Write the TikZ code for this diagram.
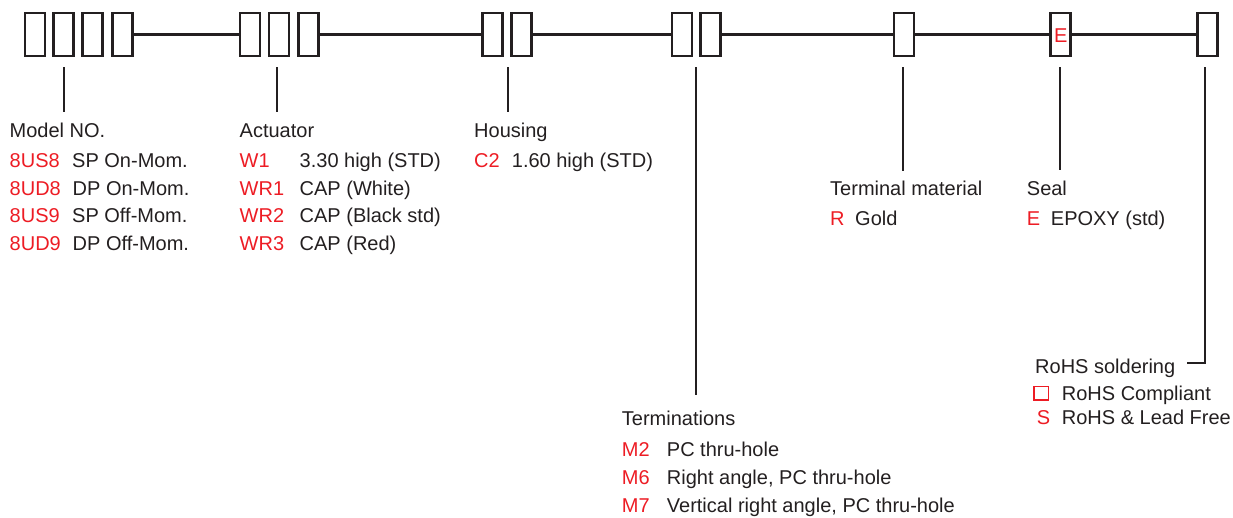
\documentclass[tikz,border=0pt]{standalone}
\usepackage{fontspec}
\setmainfont{Liberation Sans}
\definecolor{ink}{HTML}{231F20}
\definecolor{codered}{HTML}{ED1C24}
\begin{document}
\begin{tikzpicture}[x=1pt,y=-1pt,
  cell/.style={draw=ink,line width=2.6pt,minimum width=20pt,minimum height=43pt,inner sep=0pt,outer sep=0pt},
  wire/.style={draw=ink,line width=2.2pt},
  lead/.style={draw=ink,line width=2pt},
  txt/.style={inner sep=0pt,anchor=base west,text=ink,font=\fontsize{20}{24}\selectfont},
  code/.style={txt,text=codered}]
\useasboundingbox (0,0) rectangle (1233,517);
% boxes (centre y = 34.5)
\node[cell] (a1) at (35,34.5) {};
\node[cell] (a2) at (63.4,34.5) {};
\node[cell] (a3) at (92.2,34.5) {};
\node[cell] (a4) at (122.5,34.5) {};
\node[cell] (b1) at (250,34.5) {};
\node[cell] (b2) at (278.9,34.5) {};
\node[cell] (b3) at (308.5,34.5) {};
\node[cell] (c1) at (492.2,34.5) {};
\node[cell] (c2) at (521.5,34.5) {};
\node[cell] (d1) at (681.8,34.5) {};
\node[cell] (d2) at (710.5,34.5) {};
\node[cell] (e1) at (903.8,34.5) {};
\node[cell] (f1) at (1060.7,34.5) {};
\node[inner sep=0pt,text=codered,font=\fontsize{20}{24}\selectfont] (fE) at (1060.7,36) {E};
\node[cell] (g1) at (1207.3,34.5) {};
% connecting wires
\draw[wire] (a4.east) -- (b1.west);
\draw[wire] (b3.east) -- (c1.west);
\draw[wire] (c2.east) -- (d1.west);
\draw[wire] (d2.east) -- (e1.west);
\draw[wire] (e1.east) -- (f1.west);
\draw[wire] (f1.east) -- (g1.west);
% leader coordinates
\coordinate (la0) at (64,67);   \coordinate (la1) at (64,112);
\coordinate (lb0) at (277,67);  \coordinate (lb1) at (277,112);
\coordinate (lc0) at (508,67);  \coordinate (lc1) at (508,112);
\coordinate (ld0) at (695.7,67);\coordinate (ld1) at (695.7,395);
\coordinate (le0) at (903,67);  \coordinate (le1) at (903,171);
\coordinate (lf0) at (1060,67); \coordinate (lf1) at (1060,170);
\coordinate (lg0) at (1205,67); \coordinate (lg1) at (1205,363); \coordinate (lg2) at (1186.7,363);
\draw[lead] (la0) -- (la1);
\draw[lead] (lb0) -- (lb1);
\draw[lead] (lc0) -- (lc1);
\draw[lead] (ld0) -- (ld1);
\draw[lead] (le0) -- (le1);
\draw[lead] (lf0) -- (lf1);
\draw[lead] (lg0) -- (lg1) -- (lg2);
% Model NO.
\node[txt] (mh) at (9.5,137.5) {Model NO.};
\node[code] (m1) at (9.5,167.5) {8US8}; \node[txt] (m1d) at (72,167.5) {SP On-Mom.};
\node[code] (m2) at (9.5,195) {8UD8};   \node[txt] (m2d) at (72.5,195) {DP On-Mom.};
\node[code] (m3) at (9.5,222.5) {8US9};  \node[txt] (m3d) at (72,222.5) {SP Off-Mom.};
\node[code] (m4) at (9.5,250) {8UD9};   \node[txt] (m4d) at (72.5,250) {DP Off-Mom.};
% Actuator
\node[txt] (ah) at (239.5,137.5) {Actuator};
\node[code] (a1c) at (239.5,167.5) {W1};  \node[txt] (a1d) at (299.5,167.5) {3.30 high (STD)};
\node[code] (a2c) at (239.5,195) {WR1};   \node[txt] (a2d) at (299.5,195) {CAP (White)};
\node[code] (a3c) at (239.5,222.5) {WR2}; \node[txt] (a3d) at (299.5,222.5) {CAP (Black std)};
\node[code] (a4c) at (239.5,250) {WR3};   \node[txt] (a4d) at (299.5,250) {CAP (Red)};
% Housing
\node[txt] (hh) at (474,137.5) {Housing};
\node[code] (h1) at (474,167) {C2}; \node[txt] (h1d) at (511.7,167) {1.60 high (STD)};
% Terminations
\node[txt] (th) at (621.7,425) {Terminations};
\node[code] (t1) at (621.7,456.5) {M2}; \node[txt] (t1d) at (666.7,456.5) {PC thru-hole};
\node[code] (t2) at (621.7,484.5) {M6}; \node[txt] (t2d) at (666.7,484.5) {Right angle, PC thru-hole};
\node[code] (t3) at (621.7,512.5) {M7}; \node[txt] (t3d) at (666.7,512.5) {Vertical right angle, PC thru-hole};
% Terminal material
\node[txt] (rh) at (830,195) {Terminal material};
\node[code] (r1) at (830,225) {R}; \node[txt] (r1d) at (855,225) {Gold};
% Seal
\node[txt] (sh) at (1026.7,195) {Seal};
\node[code] (s1) at (1026.7,225) {E}; \node[txt] (s1d) at (1050.7,225) {EPOXY (std)};
% RoHS soldering
\node[txt] (qh) at (1035,373) {RoHS soldering};
\node[draw=codered,line width=1.3pt,minimum width=14.5pt,minimum height=13.5pt,inner sep=0pt] (q1) at (1041.2,393.3) {};
\node[txt] (q1d) at (1061.7,400.5) {RoHS Compliant};
\node[code] (q2) at (1036.7,424.3) {S}; \node[txt] (q2d) at (1061.7,424.3) {RoHS \& Lead Free};
\end{tikzpicture}
\end{document}
